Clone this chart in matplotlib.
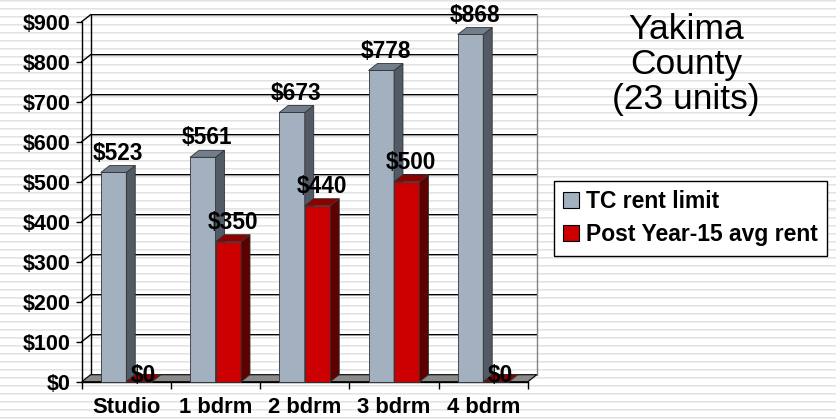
import numpy as np
import matplotlib.pyplot as plt
from matplotlib.patches import Polygon, Patch

# data
categories = ['Studio', '1 bdrm', '2 bdrm', '3 bdrm', '4 bdrm']
tc_rent_limit = [523, 561, 673, 778, 868]
post_y15_rent = [0, 350, 440, 500, 0]
series_names = ['TC rent limit', 'Post Year-15 avg rent']
title_text = 'Yakima\nCounty\n(23 units)'

plt.rcParams['font.family'] = ['Liberation Sans', 'DejaVu Sans']

W, H = 836, 419
fig = plt.figure(figsize=(W / 100, H / 100), dpi=100)

# striped slide background
bg = fig.add_axes([0, 0, 1, 1], zorder=-10)
rows = np.ones(H)
rows[np.arange(H) % 8 == 1] = 0.89
rows[np.arange(H) % 8 == 2] = 0.93
bg.imshow(np.tile(rows[:, None], (1, W)), cmap='gray', vmin=0, vmax=1,
          aspect='auto', interpolation='nearest')
bg.axis('off')

# main plot, front plane of the 3d box
ax = fig.add_axes([81.7 / W, 1 - 381.7 / H, 446.2 / W, 360 / H])
ax.patch.set_alpha(0)
n = len(categories)
x = np.arange(n)
ax.set_xlim(-0.5, n - 0.5)
ax.set_ylim(0, 900)

dx, dy = 0.1, 17.5   # depth of the 3d effect, in data units
bw = 0.286

# back wall + gridlines
yt = np.arange(0, 901, 100)
for v in yt[1:]:
    ax.plot([-0.5, -0.5 + dx, n - 0.5 + dx], [v, v + dy, v + dy],
            color='black', lw=1, clip_on=False, zorder=1)
ax.plot([-0.5 + dx, -0.5 + dx], [dy, 900 + dy], color='black', lw=1, clip_on=False, zorder=1)
ax.plot([n - 0.5 + dx, n - 0.5 + dx], [dy, 900 + dy], color='#808080', lw=1, clip_on=False, zorder=1)

# floor
floor = Polygon([(-0.5, 0), (n - 0.5, 0), (n - 0.5 + dx, dy), (-0.5 + dx, dy)],
                closed=True, facecolor='#8a8a8a', edgecolor='black', lw=0.8,
                clip_on=False, zorder=2)
ax.add_patch(floor)

styles = [('#a2b0c0', '#525a66', '#727e8c'), ('#cc0000', '#5c0000', '#8c0000')]
z = 3
for i in range(n):
    for s, (vals, off) in enumerate([(tc_rent_limit, -bw), (post_y15_rent, 0)]):
        v = vals[i]
        front, side, top = styles[s]
        x0, x1 = x[i] + off, x[i] + off + bw
        ax.bar(x0, v, width=bw, align='edge', color=front, edgecolor='#333333',
               lw=0.6, zorder=z, clip_on=False)
        ax.add_patch(Polygon([(x1, 0), (x1, v), (x1 + dx, v + dy), (x1 + dx, dy)],
                             facecolor=side, edgecolor='#333333', lw=0.6,
                             zorder=z, clip_on=False))
        ax.add_patch(Polygon([(x0, v), (x1, v), (x1 + dx, v + dy), (x0 + dx, v + dy)],
                             facecolor=top, edgecolor='#333333', lw=0.6,
                             zorder=z, clip_on=False))
        lift = 13 if v > 0 else 0
        ax.annotate(f'${v}', (x0 + bw / 2, v), xytext=(4.5 * 0.72, lift * 0.72),
                    textcoords='offset points', ha='center', va='baseline',
                    fontsize=16.3, fontweight='bold', zorder=20)
        z += 1

# axes
for sp in ['top', 'right']:
    ax.spines[sp].set_visible(False)
ax.spines['left'].set_linewidth(1)
ax.spines['bottom'].set_linewidth(1)
ax.spines['bottom'].set_zorder(2.5)
ax.set_yticks(yt)
ax.set_yticklabels([f'${v}' for v in yt])
ax.tick_params(axis='y', length=4, width=1, pad=4, labelsize=15.5)
ax.set_xticks(np.arange(-0.5, n, 1.0))
ax.set_xticklabels([])
ax.set_xticks(x, minor=True)
ax.set_xticklabels(categories, minor=True)
ax.tick_params(axis='x', which='major', length=5, width=1)
ax.tick_params(axis='x', which='minor', length=0, pad=11, labelsize=15.8)
for lab in ax.get_yticklabels() + ax.get_xticklabels(minor=True):
    lab.set_fontweight('bold')

# title block on the right
fig.text(686 / W, 1 - 13 / H, title_text, ha='center', va='top', fontsize=25.5,
         linespacing=1.08)

handles = [Patch(facecolor=styles[0][0], edgecolor='black', lw=0.8),
           Patch(facecolor=styles[1][0], edgecolor='black', lw=0.8)]
leg = fig.legend(handles, series_names, loc='upper left',
                 bbox_to_anchor=(554 / W, 1 - 181 / H), frameon=True, fancybox=False,
                 edgecolor='black', framealpha=1, handlelength=0.7, handleheight=0.7,
                 handletextpad=0.3, borderpad=0.4, labelspacing=0.45, borderaxespad=0,
                 prop={'size': 16.5, 'weight': 'bold'})
leg.get_frame().set_linewidth(1)

plt.savefig('out.png', dpi=100)
